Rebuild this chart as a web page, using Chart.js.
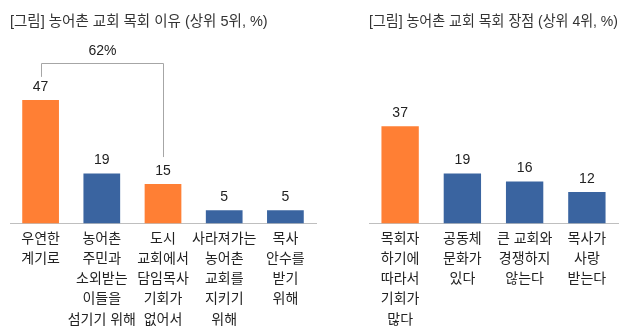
<!DOCTYPE html>
<html>
<head>
<meta charset="utf-8">
<script src="https://cdn.jsdelivr.net/npm/chart.js@4"></script>
<style>
  body{margin:0;background:#fff;}
  .box{position:absolute;top:0;height:335px;}
</style>
</head>
<body>
<div class="box" style="left:0;width:320px"><canvas id="reasons"></canvas></div>
<div class="box" style="left:320px;width:310px"><canvas id="merits"></canvas></div>
<script>
// left chart: reasons (top 5)
const reasonLabels = [
    ['우연한','계기로'],
    ['농어촌','주민과','소외받는','이들을','섬기기 위해'],
    ['도시','교회에서','담임목사','기회가','없어서'],
    ['사라져가는','농어촌','교회를','지키기','위해'],
    ['목사','안수를','받기','위해']
];
const reasonValues = [47, 19, 15, 5, 5];
const reasonHighlight = [true, false, true, false, false];
// bracket over bar 0..2 with the sum
const bracketFrom = 0, bracketTo = 2, bracketLevel = 61, bracketText = '62%';

// right chart: merits (top 4)
const meritLabels = [
    ['목회자','하기에','따라서','기회가','많다'],
    ['공동체','문화가','있다'],
    ['큰 교회와','경쟁하지','않는다'],
    ['목사가','사랑','받는다']
];
const meritValues = [37, 19, 16, 12];
const meritHighlight = [true, false, false, false];

const ORANGE = '#FF7F34';
const BLUE = '#3A64A0';
const FONT = "'Liberation Sans', 'Noto Sans CJK KR', sans-serif";

const valueLabels = {
    id:'valueLabels',
    afterDatasetsDraw(chart){
        const ctx = chart.ctx;
        const meta = chart.getDatasetMeta(0);
        ctx.save();
        ctx.font = '14px ' + FONT;
        ctx.fillStyle = '#222';
        ctx.textAlign = 'center';
        ctx.textBaseline = 'middle';
        meta.data.forEach((bar, i) => {
            ctx.fillText(chart.data.datasets[0].data[i], bar.x, bar.y - 13);
        });
        ctx.restore();
    }
};

const bracket = {
    id:'bracket',
    afterDatasetsDraw(chart, args, opts){
        if(!opts.show) return;
        const ctx = chart.ctx;
        const meta = chart.getDatasetMeta(0);
        const y = chart.scales.y;
        const a = meta.data[bracketFrom], b = meta.data[bracketTo];
        const top = Math.round(y.getPixelForValue(bracketLevel)) + 0.5;
        const xa = Math.round(a.x) + 0.5, xb = Math.round(b.x) + 0.5;
        ctx.save();
        ctx.strokeStyle = '#a6a6a6';
        ctx.lineWidth = 1;
        ctx.beginPath();
        ctx.moveTo(xa, a.y - 23);
        ctx.lineTo(xa, top);
        ctx.lineTo(xb, top);
        ctx.lineTo(xb, b.y - 27);
        ctx.stroke();
        ctx.font = '14px ' + FONT;
        ctx.fillStyle = '#222';
        ctx.textAlign = 'center';
        ctx.textBaseline = 'middle';
        ctx.fillText(bracketText, (xa + xb) / 2, top - 12);
        ctx.restore();
    }
};

function makeChart(id, title, labels, values, highlight, pad, showBracket){
    return new Chart(document.getElementById(id), {
        type:'bar',
        data:{
            labels: labels,
            datasets:[{
                data: values,
                backgroundColor: highlight.map(h => h ? ORANGE : BLUE),
                barPercentage: 0.6,
                categoryPercentage: 1
            }]
        },
        options:{
            responsive:true,
            maintainAspectRatio:false,
            animation:false,
            layout:{padding: pad},
            plugins:{
                legend:{display:false},
                tooltip:{enabled:false},
                title:{
                    display:true,
                    text:title,
                    align:'start',
                    color:'#333',
                    font:{family:FONT, size:14.5, weight:'normal'},
                    padding:{top:13, bottom:9}
                },
                bracket:{show: showBracket}
            },
            scales:{
                x:{
                    grid:{display:false, drawTicks:false},
                    border:{color:'#bfbfbf', width:1},
                    ticks:{
                        color:'#222',
                        padding:5,
                        maxRotation:0,
                        autoSkip:false,
                        font:{family:FONT, size:14, lineHeight:1.45}
                    }
                },
                y:{
                    display:false,
                    min:0,
                    max:70
                }
            }
        },
        plugins:[valueLabels, bracket]
    });
}

makeChart('reasons', '[그림] 농어촌 교회 목회 이유 (상위 5위, %)', reasonLabels, reasonValues, reasonHighlight,
    {left:10, right:4, top:0, bottom:0}, true);
makeChart('merits', '[그림] 농어촌 교회 목회 장점 (상위 4위, %)', meritLabels, meritValues, meritHighlight,
    {left:49, right:12, top:0, bottom:0}, false);
</script>
</body>
</html>
